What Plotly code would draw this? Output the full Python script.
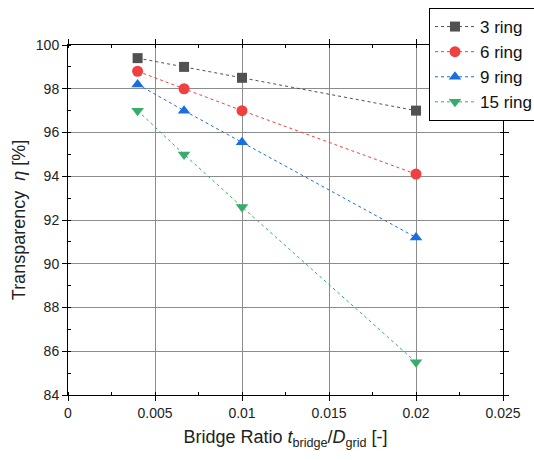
import plotly.graph_objects as go

x_ratio = [0.004, 0.00667, 0.01, 0.02]
ring3 = [99.4, 99.0, 98.5, 97.0]
ring6 = [98.8, 98.0, 97.0, 94.1]
ring9 = [98.2, 97.0, 95.55, 91.2]
ring15 = [97.0, 95.0, 92.6, 85.5]

series = [
    ("3 ring", ring3, "#515151", "square", 10),
    ("6 ring", ring6, "#F14040", "circle", 11),
    ("9 ring", ring9, "#1A6FDF", "triangle-up", 11),
    ("15 ring", ring15, "#37AD6B", "triangle-down", 11),
]

x_ticks = [0, 0.005, 0.01, 0.015, 0.02, 0.025]
x_ticktext = ["0", "0.005", "0.01", "0.015", "0.02", "0.025"]
y_ticks = [84, 86, 88, 90, 92, 94, 96, 98, 100]

fig = go.Figure()
for name, vals, color, sym, sz in series:
    fig.add_trace(go.Scatter(
        x=x_ratio, y=vals, name=name, mode="lines+markers",
        line=dict(color=color, width=1, dash="dot"),
        marker=dict(color=color, symbol=sym, size=sz),
    ))

axis_common = dict(
    showline=True, linecolor="black", linewidth=1, mirror="ticks",
    ticks="outside", ticklen=5, tickcolor="black",
    showgrid=True, gridcolor="#8c8c8c", gridwidth=1, zeroline=False,
    tickfont=dict(size=14, color="#222"),
)

fig.update_xaxes(
    range=[0, 0.025], tickvals=x_ticks, ticktext=x_ticktext,
    minor=dict(ticks="inside", ticklen=3, tickcolor="black", dtick=0.0025, showgrid=False),
    title=dict(text="Bridge Ratio <i>t</i><sub>bridge</sub>/<i>D</i><sub>grid</sub> [-]",
               font=dict(size=18, color="#222"), standoff=10),
    **axis_common,
)
fig.update_yaxes(
    range=[84, 100], tickvals=y_ticks,
    minor=dict(ticks="inside", ticklen=3, tickcolor="black", dtick=1, showgrid=False),
    title=dict(text="Transparency  <i>η</i> [%]", font=dict(size=18, color="#222"), standoff=5),
    **axis_common,
)

fig.update_layout(
    width=534, height=460,
    margin=dict(l=68, r=31, t=45, b=65, autoexpand=False),
    paper_bgcolor="white", plot_bgcolor="white",
    font=dict(family="Liberation Sans, Arial, sans-serif", color="#222"),
    legend=dict(
        xref="container", yref="container",
        x=429 / 534, y=1 - 8 / 460, xanchor="left", yanchor="top",
        bgcolor="white", bordercolor="black", borderwidth=1,
        font=dict(size=17, color="#111"), tracegroupgap=0,
        itemwidth=40,
    ),
)

fig.write_html("out.html")
